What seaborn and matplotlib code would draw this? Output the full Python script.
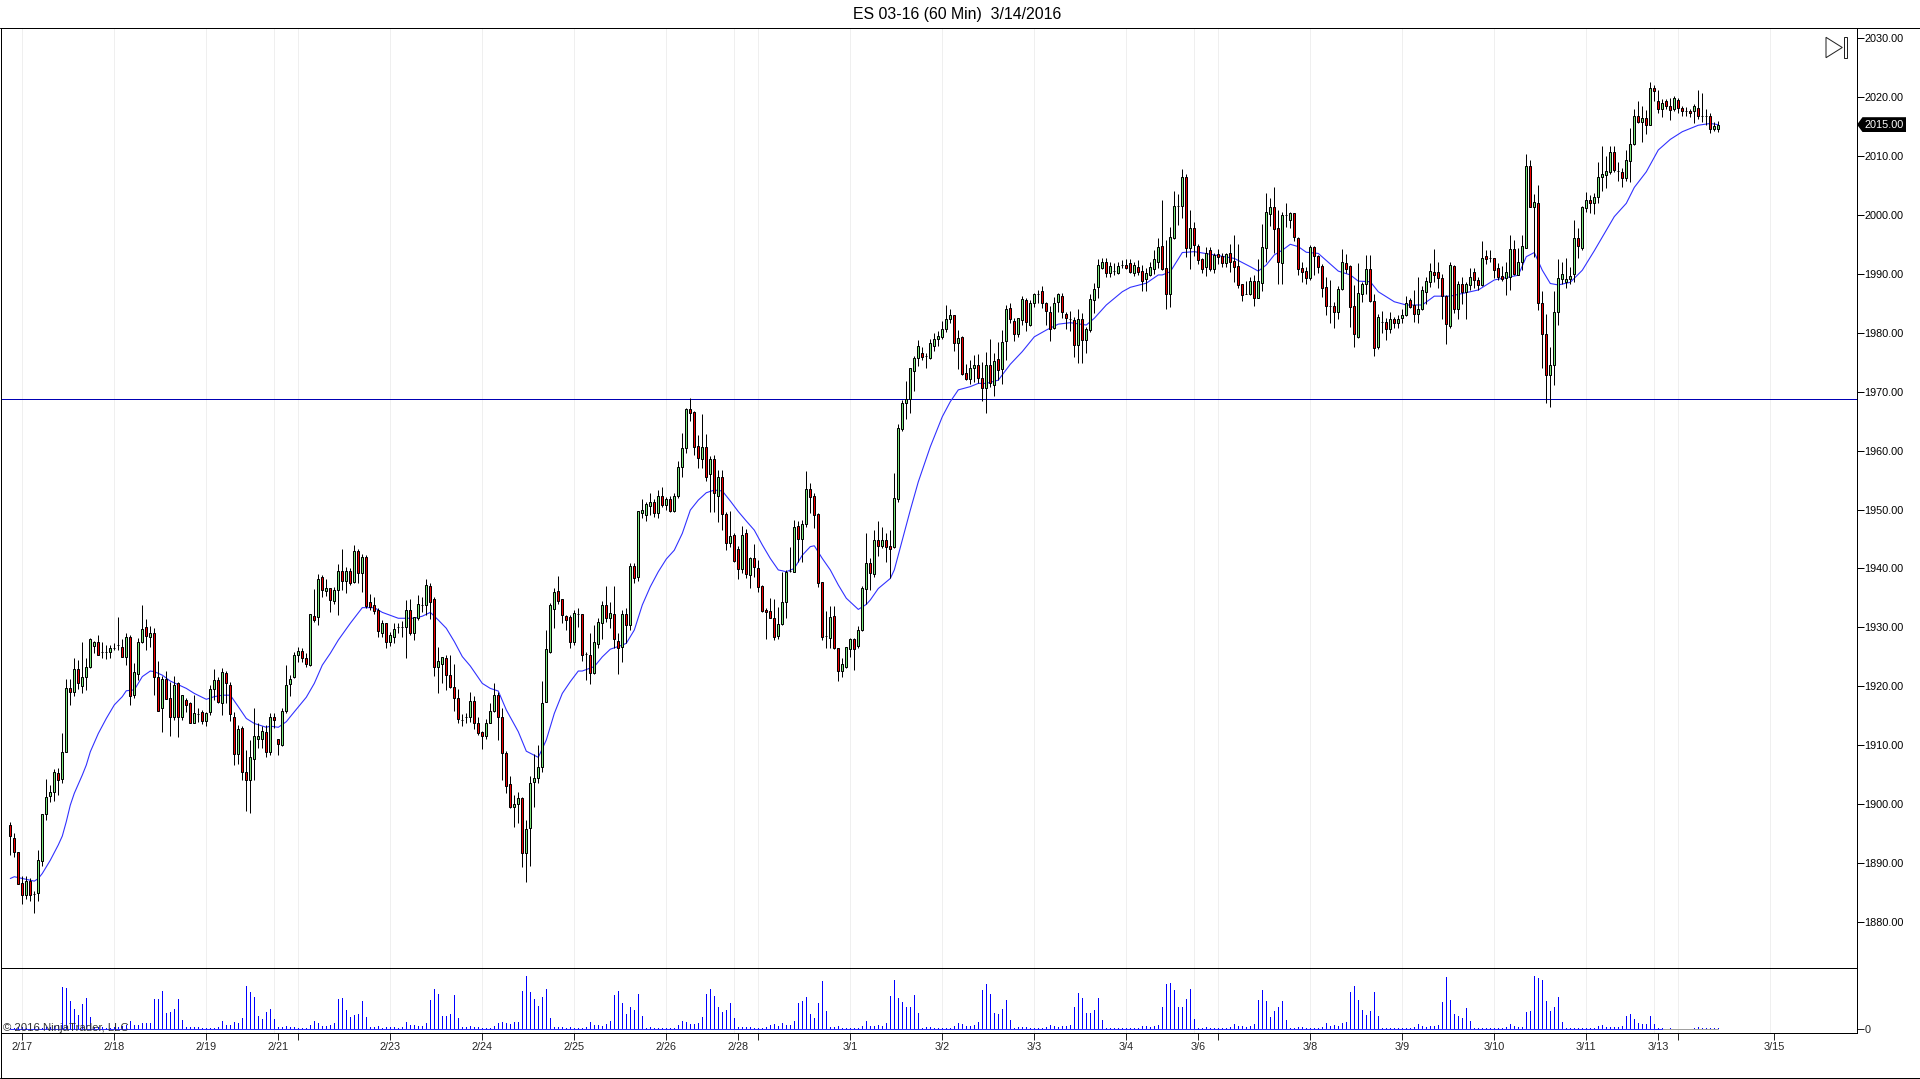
import numpy as np
import pandas as pd
import seaborn as sns
import matplotlib.pyplot as plt
from matplotlib.patches import Polygon, Rectangle
from matplotlib.lines import Line2D

title = "ES 03-16 (60 Min)  3/14/2016"
copyright_text = "© 2016 NinjaTrader, LLC"

opens = [
1896.5,1894.3,1891.9,1886.7,1884.6,1887.0,1884.75,1884.9,1890.4,1898.4,
1901.45,1902.0,1905.25,1904.2,1908.9,1919.65,1919.1,1922.9,1920.1,1921.65,
1923.2,1926.9,1927.5,1925.75,1925.75,1925.75,1926.5,1927.05,1926.6,1924.9,
1928.4,1918.5,1922.1,1927.6,1930.0,1928.4,1929.0,1921.65,1916.4,1921.2,
1918.1,1914.75,1920.5,1914.85,1917.7,1917.1,1913.8,1915.35,1915.7,1914.2,
1915.7,1919.5,1921.05,1917.1,1922.2,1920.2,1914.85,1908.45,1912.9,1905.4,
1904.1,1907.6,1911.1,1911.1,1912.2,1908.9,1914.8,1911.1,1910.05,1915.8,
1920.45,1921.5,1925.25,1925.95,1924.75,1923.7,1931.9,1931.7,1938.5,1936.1,
1936.6,1934.4,1936.4,1939.5,1937.9,1939.6,1937.65,1942.9,1939.2,1941.9,
1934.25,1933.75,1932.95,1929.1,1930.7,1927.6,1928.4,1930.0,1930.1,1930.1,
1932.9,1929.1,1931.6,1933.85,1933.85,1936.95,1934.75,1923.2,1923.85,1924.75,
1921.85,1919.95,1917.95,1914.35,1914.85,1914.85,1917.45,1913.75,1912.2,1911.6,
1913.85,1915.75,1918.5,1914.8,1908.65,1903.35,1899.6,1900.0,1901.0,1891.65,
1895.9,1903.7,1904.4,1906.35,1917.4,1925.9,1933.2,1936.1,1934.75,1931.9,
1931.7,1927.6,1932.3,1932.2,1925.5,1925.4,1922.2,1927.1,1930.7,1933.75,
1931.65,1932.2,1927.7,1926.6,1932.25,1930.4,1940.35,1938.6,1949.45,1949.1,
1950.65,1951.3,1949.45,1952.35,1950.8,1951.75,1949.8,1952.25,1957.15,1960.4,
1967.05,1966.5,1960.85,1958.6,1960.65,1955.95,1958.5,1952.35,1955.45,1949.2,
1944.25,1945.6,1943.25,1939.95,1945.95,1938.9,1941.8,1940.0,1937.05,1932.95,
1932.8,1931.65,1928.6,1930.5,1934.35,1939.6,1939.45,1947.2,1944.95,1947.5,
1953.4,1952.25,1949.2,1937.65,1928.55,1928.15,1931.9,1926.45,1922.65,1923.35,
1926.35,1927.95,1926.8,1929.5,1936.45,1940.85,1939.0,1944.75,1943.85,1944.75,
1943.8,1943.7,1951.75,1963.65,1968.0,1968.7,1973.55,1975.65,1976.5,1976.0,
1975.65,1977.8,1978.9,1979.3,1980.65,1982.4,1982.95,1978.3,1979.2,1973.1,
1972.15,1974.05,1974.6,1972.25,1970.65,1974.45,1971.2,1975.5,1973.9,1978.65,
1984.15,1982.0,1979.7,1982.2,1985.5,1981.35,1985.1,1986.6,1987.0,1984.98,
1983.55,1980.85,1985.15,1986.2,1983.1,1982.35,1982.15,1977.85,1982.25,1978.7,
1980.4,1985.5,1987.7,1991.0,1992.0,1990.2,1990.4,1990.2,1991.5,1991.5,
1991.75,1990.2,1991.2,1990.5,1989.1,1989.85,1990.8,1992.0,1994.7,1990.9,
1986.6,1996.0,2001.55,2001.55,2006.4,1994.4,1997.7,1994.7,1992.5,1991.1,
1994.0,1990.85,1993.4,1993.0,1991.75,1993.45,1992.15,1991.3,1988.2,1986.55,
1986.6,1988.7,1985.95,1988.35,1994.4,2000.2,2001.4,1997.7,1991.75,1999.9,
1999.2,2000.25,1996.0,1990.9,1990.45,1989.3,1994.6,1992.95,1991.25,1987.7,
1984.6,1984.45,1983.55,1987.35,1991.75,1991.3,1984.5,1979.3,1986.6,1988.3,
1990.75,1985.4,1977.6,1981.85,1981.75,1980.7,1982.25,1981.7,1982.55,1982.95,
1985.5,1984.65,1983.1,1983.95,1986.95,1988.65,1990.25,1990.25,1989.2,1986.2,
1981.15,1991.3,1984.05,1988.2,1986.95,1988.1,1990.25,1988.9,1988.1,1992.95,
1992.6,1992.6,1990.9,1989.7,1989.2,1989.5,1994.15,1989.85,1992.05,1994.4,
2008.2,2001.4,2002.05,1985.0,1979.7,1972.75,1974.6,1983.55,1989.15,1988.65,
1989.1,1989.9,1996.15,1994.4,2001.2,2002.45,2002.05,2003.1,2006.35,2006.8,
2007.3,2010.6,2007.35,2007.2,2006.25,2009.2,2012.05,2016.7,2015.75,2016.4,
2015.3,2021.5,2019.35,2017.9,2019.3,2018.4,2017.9,2019.45,2018.2,2017.65,
2017.65,2017.65,2018.2,2016.8,2016.8,2016.85,2014.6,2014.55]

closes = [
1894.65,1891.9,1886.4,1884.6,1886.9,1884.6,1884.75,1890.5,1898.4,1901.2,
1902.0,1905.4,1904.1,1908.9,1919.65,1919.1,1922.9,1920.5,1921.5,1923.2,
1928.0,1927.5,1925.4,1925.75,1925.75,1926.45,1926.5,1927.05,1924.9,1928.4,
1918.4,1922.4,1927.6,1929.7,1928.6,1929.0,1921.65,1915.9,1921.25,1917.9,
1914.75,1920.2,1914.75,1918.5,1916.85,1913.8,1915.4,1915.35,1914.2,1915.4,
1919.5,1921.05,1917.4,1922.4,1920.5,1915.25,1908.45,1912.7,1905.4,1904.1,
1907.95,1911.55,1911.55,1912.4,1908.9,1914.8,1914.3,1910.15,1915.9,1920.2,
1921.2,1925.25,1925.95,1924.85,1923.75,1932.2,1931.3,1938.15,1936.35,1936.6,
1934.7,1936.4,1939.6,1937.9,1939.5,1937.5,1942.9,1939.2,1941.9,1933.7,
1933.4,1932.85,1929.45,1930.7,1927.6,1928.65,1929.65,1930.0,1930.1,1932.9,
1929.1,1931.7,1933.9,1933.85,1937.15,1934.3,1923.35,1924.25,1924.9,1921.85,
1919.95,1917.95,1914.4,1914.35,1914.85,1917.55,1913.85,1912.15,1911.6,1913.75,
1915.75,1918.5,1914.85,1908.65,1903.15,1899.6,1900.0,1901.0,1891.65,1895.75,
1903.65,1904.4,1906.35,1917.1,1926.3,1933.8,1936.0,1934.4,1932.15,1931.3,
1927.6,1932.4,1932.3,1925.4,1925.5,1922.3,1927.45,1930.95,1933.75,1931.65,
1932.4,1927.95,1926.45,1932.25,1930.4,1940.35,1938.4,1949.7,1949.85,1950.9,
1951.3,1949.45,1952.35,1950.7,1951.75,1949.8,1952.25,1957.15,1960.4,1967.05,
1966.45,1960.65,1958.7,1960.65,1955.55,1958.55,1952.75,1955.45,1949.2,1944.25,
1945.45,1941.3,1939.95,1945.6,1939.1,1941.7,1940.2,1936.9,1932.85,1932.65,
1931.65,1928.45,1930.5,1934.25,1939.45,1939.6,1946.95,1945.05,1947.5,1953.4,
1952.1,1949.0,1937.6,1928.45,1928.55,1931.7,1926.45,1922.65,1923.75,1926.6,
1927.95,1926.35,1929.5,1936.65,1940.85,1939.15,1944.8,1943.85,1944.75,1943.7,
1943.35,1951.9,1963.75,1968.0,1968.7,1973.95,1975.65,1977.7,1975.95,1976.0,
1978.2,1978.9,1979.45,1980.7,1982.25,1982.95,1978.3,1979.15,1973.05,1972.15,
1973.95,1974.6,1972.35,1970.65,1974.45,1971.4,1975.15,1973.6,1978.35,1983.95,
1982.4,1979.7,1982.45,1985.65,1981.75,1984.98,1986.5,1986.6,1984.98,1983.6,
1980.65,1984.98,1986.5,1983.45,1982.45,1982.35,1977.85,1982.25,1978.7,1980.65,
1985.65,1987.35,1991.5,1992.0,1990.2,1991.4,1990.4,1991.3,1991.5,1991.0,
1990.35,1991.5,1990.35,1988.8,1990.2,1991.2,1992.5,1994.5,1990.8,1986.6,
1996.2,2001.5,2001.55,2006.4,1994.4,1997.7,1994.9,1992.4,1990.85,1993.6,
1990.75,1993.1,1992.9,1991.9,1993.4,1992.05,1991.2,1988.05,1986.45,1986.55,
1988.8,1985.95,1988.7,1994.5,2000.4,2001.25,1997.65,1991.95,1999.9,1999.9,
2000.3,1996.2,1990.85,1990.35,1989.2,1994.5,1992.95,1991.2,1987.65,1984.6,
1984.6,1983.5,1987.35,1991.95,1990.8,1984.4,1979.7,1986.7,1988.25,1990.75,
1985.4,1977.45,1982.6,1981.85,1980.7,1982.4,1981.7,1982.4,1982.95,1985.1,
1984.4,1983.1,1984.1,1987.25,1988.75,1990.4,1989.85,1989.2,1986.2,1981.4,
1991.45,1984.05,1988.2,1986.9,1988.2,1989.45,1988.9,1988.1,1992.6,1992.55,
1992.6,1990.7,1989.4,1989.15,1990.25,1994.15,1989.9,1992.05,1994.7,2008.2,
2001.4,2002.2,1985.0,1979.7,1972.75,1974.6,1983.45,1989.2,1989.9,1989.15,
1989.7,1996.15,1994.65,2001.25,2002.45,2002.05,2003.1,2006.35,2006.85,2007.35,
2010.6,2007.6,2007.35,2006.25,2009.3,2012.1,2016.7,2015.75,2016.4,2015.3,
2021.6,2021.05,2017.9,2018.9,2018.4,2017.85,2019.75,2018.05,2017.65,2017.65,
2017.3,2018.4,2016.7,2016.8,2016.8,2014.6,2015.05,2015.2]

highs = [
1896.9,1895.2,1891.9,1887.9,1887.8,1887.4,1885.3,1892.2,1898.4,1904.2,
1903.25,1906.0,1906.1,1912.0,1921.2,1921.2,1924.75,1924.5,1927.5,1924.75,
1928.25,1927.75,1928.7,1927.5,1927.0,1927.0,1927.4,1931.7,1928.0,1929.0,
1928.7,1923.9,1928.15,1933.8,1931.5,1930.25,1929.85,1924.3,1921.75,1922.6,
1920.7,1921.75,1920.8,1918.6,1917.95,1917.4,1918.5,1916.4,1916.0,1915.7,
1920.2,1922.9,1921.65,1923.05,1922.65,1920.8,1915.7,1913.4,1913.25,1909.2,
1910.9,1916.4,1913.7,1913.25,1913.4,1915.4,1915.5,1911.1,1916.3,1923.7,
1921.9,1925.9,1926.6,1926.5,1925.6,1932.3,1936.45,1939.05,1938.9,1938.15,
1936.6,1936.9,1940.75,1943.3,1940.2,1940.0,1944.0,1943.25,1942.45,1942.3,
1935.6,1935.2,1933.25,1931.25,1930.7,1929.3,1930.7,1930.7,1931.1,1934.65,
1934.75,1931.7,1935.5,1935.1,1938.15,1937.5,1935.1,1926.6,1925.0,1925.3,
1925.25,1923.8,1919.5,1915.3,1915.5,1919.0,1918.35,1914.75,1912.4,1914.45,
1917.1,1920.5,1919.1,1916.25,1909.1,1904.8,1901.55,1902.0,1901.3,1897.3,
1904.8,1908.45,1910.05,1920.95,1929.55,1934.1,1936.6,1938.7,1934.9,1932.1,
1932.1,1933.0,1933.25,1932.25,1925.75,1929.0,1930.4,1931.65,1934.45,1937.0,
1934.25,1937.0,1929.0,1932.95,1933.25,1940.9,1940.9,1949.7,1951.8,1951.3,
1952.75,1951.8,1953.3,1953.9,1952.2,1952.35,1952.75,1958.2,1963.05,1967.2,
1968.85,1966.75,1962.65,1966.2,1962.75,1959.15,1959.25,1956.7,1956.7,1949.65,
1949.75,1945.95,1943.85,1947.2,1946.65,1941.9,1944.15,1941.4,1937.2,1933.25,
1934.95,1934.8,1933.4,1939.45,1939.75,1943.7,1948.2,1948.1,1948.2,1956.55,
1954.45,1952.75,1949.35,1937.65,1932.75,1933.7,1933.7,1926.45,1924.75,1926.6,
1928.15,1928.15,1930.25,1937.1,1945.95,1941.7,1946.5,1948.05,1947.1,1945.95,
1946.6,1956.15,1964.5,1968.6,1971.8,1973.95,1976.05,1978.75,1977.5,1976.6,
1978.95,1979.9,1980.35,1981.95,1984.7,1983.95,1983.0,1980.45,1979.45,1974.7,
1975.35,1976.2,1976.4,1975.0,1976.7,1978.95,1976.5,1978.5,1980.45,1984.7,
1985.1,1982.55,1982.55,1986.2,1985.85,1985.55,1986.8,1987.25,1987.9,1985.15,
1984.5,1986.0,1986.7,1986.7,1983.55,1983.75,1982.7,1983.95,1983.3,1981.0,
1986.6,1988.4,1992.5,1992.75,1992.75,1992.0,1991.75,1992.0,1992.25,1992.5,
1992.5,1992.0,1992.25,1991.5,1991.0,1992.0,1994.0,1996.0,2002.5,1995.7,
1998.0,2004.0,2003.45,2007.7,2006.85,2000.8,1998.8,1995.0,1992.7,1994.6,
1994.6,1993.6,1994.15,1993.45,1993.6,1995.05,1996.55,1995.05,1988.25,1988.75,
1989.4,1989.8,1992.5,1998.45,2003.65,2002.8,2004.65,2000.8,2000.4,2002.05,
2000.55,2000.35,1996.2,1992.05,1991.2,1994.9,1994.7,1993.2,1991.65,1989.4,
1988.95,1985.25,1987.9,1994.15,1993.35,1991.5,1988.1,1991.85,1988.65,1993.2,
1993.2,1986.65,1983.1,1983.75,1982.55,1983.55,1982.7,1983.0,1984.1,1986.2,
1985.85,1987.25,1989.5,1987.9,1989.5,1991.85,1994.15,1992.05,1989.9,1986.4,
1992.05,1991.45,1988.75,1989.5,1988.65,1990.9,1990.9,1989.5,1995.5,1994.0,
1994.0,1992.7,1991.85,1991.3,1992.05,1996.55,1995.7,1994.3,1996.55,2010.4,
2009.3,2003.5,2005.05,1987.05,1983.15,1977.6,1987.05,1992.5,1992.05,1992.7,
1991.2,1999.2,1997.7,2001.5,2003.9,2003.35,2003.65,2008.9,2011.65,2009.95,
2011.65,2011.65,2009.0,2007.9,2011.0,2014.65,2017.95,2019.3,2018.45,2017.8,
2022.45,2022.0,2021.2,2019.6,2019.6,2019.75,2020.2,2019.75,2018.45,2018.35,
2017.9,2018.8,2021.2,2020.6,2017.9,2017.2,2015.8,2016.0]

lows = [
1891.4,1891.1,1886.4,1883.1,1883.95,1883.6,1881.6,1883.5,1889.55,1897.3,
1900.4,1900.55,1901.6,1903.65,1908.9,1916.85,1918.35,1919.5,1918.9,1919.4,
1923.05,1925.6,1925.3,1924.75,1924.65,1924.75,1926.2,1926.2,1924.9,1923.6,
1916.85,1917.95,1921.1,1927.3,1926.2,1926.7,1918.5,1915.9,1912.3,1917.9,
1911.55,1914.3,1911.45,1914.3,1915.7,1913.7,1913.7,1914.0,1913.6,1913.25,
1915.15,1917.7,1917.1,1915.15,1917.1,1914.2,1906.65,1906.8,1904.1,1898.85,
1898.55,1904.1,1909.5,1909.5,1908.05,1908.35,1912.9,1908.35,1909.9,1915.5,
1918.4,1921.35,1924.2,1924.2,1923.35,1923.45,1931.0,1930.4,1935.2,1935.3,
1932.65,1934.05,1932.1,1936.35,1935.9,1937.2,1937.5,1937.5,1936.05,1933.25,
1932.95,1932.3,1928.3,1928.4,1926.55,1926.85,1927.4,1929.0,1928.4,1924.75,
1928.7,1927.85,1931.25,1932.65,1932.1,1931.5,1921.75,1918.9,1920.6,1919.4,
1919.65,1915.85,1913.85,1913.25,1913.85,1914.0,1912.7,1911.75,1909.35,1911.05,
1913.75,1915.6,1910.9,1904.1,1901.85,1899.3,1896.2,1896.75,1889.4,1886.85,
1889.5,1899.6,1903.65,1905.4,1917.4,1925.7,1929.95,1934.05,1930.7,1929.55,
1926.55,1927.0,1930.0,1924.35,1921.05,1920.45,1922.05,1926.45,1927.95,1930.95,
1929.85,1926.45,1922.15,1924.2,1927.3,1929.55,1937.45,1937.9,1948.5,1948.05,
1949.05,1948.8,1948.6,1950.45,1949.9,1949.5,1949.5,1952.0,1955.55,1959.55,
1965.0,1959.25,1957.1,1957.1,1954.9,1949.5,1949.5,1947.95,1946.5,1943.15,
1943.7,1941.15,1938.15,1939.2,1938.4,1936.6,1938.6,1936.05,1932.65,1927.95,
1931.55,1927.85,1928.05,1930.4,1931.65,1939.45,1939.45,1941.15,1941.15,1947.1,
1949.35,1946.9,1936.9,1927.85,1926.45,1926.45,1926.3,1920.95,1921.65,1923.15,
1925.05,1922.75,1926.45,1929.4,1933.9,1936.35,1938.6,1942.1,1943.4,1941.15,
1938.3,1943.4,1951.35,1963.4,1965.35,1966.3,1970.1,1974.35,1975.35,1974.05,
1975.5,1976.95,1977.75,1978.9,1980.15,1981.7,1976.95,1973.8,1972.8,1971.95,
1971.3,1971.7,1971.5,1968.4,1966.45,1970.85,1969.25,1971.95,1971.3,1975.35,
1981.6,1978.65,1979.3,1981.3,1980.3,1981.15,1984.3,1984.98,1984.15,1981.3,
1978.65,1980.7,1983.55,1982.45,1980.55,1980.3,1975.95,1974.9,1974.9,1976.5,
1980.15,1983.4,1985.9,1990.75,1989.4,1989.4,1989.8,1989.9,1990.9,1990.75,
1990.2,1989.6,1989.8,1987.15,1987.15,1989.6,1990.0,1991.0,1990.65,1984.0,
1984.4,1995.85,1998.3,1999.4,1992.9,1990.8,1993.05,1991.65,1990.05,1989.65,
1990.45,1990.05,1991.65,1991.1,1991.1,1990.35,1988.65,1987.5,1985.45,1986.5,
1986.4,1984.55,1985.95,1987.1,1992.05,1998.1,1993.6,1988.25,1988.25,1998.0,
1997.7,1995.55,1989.8,1988.65,1988.25,1988.95,1989.8,1990.05,1986.0,1983.0,
1981.6,1980.85,1982.3,1987.25,1990.05,1981.0,1977.6,1979.15,1985.25,1986.65,
1985.25,1976.05,1977.15,1979.9,1978.75,1979.9,1980.75,1980.85,1981.7,1982.85,
1984.15,1981.85,1981.6,1983.85,1984.95,1987.7,1988.65,1987.5,1982.4,1978.05,
1980.75,1983.3,1982.3,1984.85,1982.3,1987.25,1987.5,1987.25,1987.9,1991.65,
1992.05,1989.2,1988.95,1988.75,1986.4,1987.25,1989.8,1989.75,1990.6,1994.4,
2001.4,1992.9,1983.85,1973.95,1968.0,1967.4,1971.1,1981.3,1988.25,1987.65,
1988.25,1988.65,1992.6,1994.0,2000.5,2000.35,2000.15,2002.05,2004.1,2004.5,
2007.0,2007.3,2005.8,2004.65,2005.7,2005.6,2011.85,2015.5,2012.4,2013.65,
2015.2,2019.35,2017.2,2016.65,2017.9,2016.1,2017.65,2017.2,2016.75,2016.75,
2016.65,2015.5,2016.2,2015.8,2015.2,2013.8,2014.3,2014.1]

volume = [
5,5,6,6,5,5,6,6,5,8,8,10,14,
128,125,84,60,42,75,93,38,8,8,6,5,5,6,8,10,12,24,12,12,18,18,18,
90,92,114,48,51,60,90,27,6,8,8,6,5,5,5,5,8,24,12,12,21,18,33,
129,111,96,39,30,51,60,30,8,8,11,6,6,5,5,5,14,24,18,9,9,14,18,
90,93,57,36,42,45,84,36,6,6,9,5,8,6,6,5,8,21,14,12,11,11,20,
87,120,105,39,39,45,102,33,6,6,9,8,8,4,4,4,10,18,21,18,15,21,21,
115,160,112,91,70,97,121,34,7,7,7,5,7,5,5,5,8,21,13,13,10,15,25,
103,115,78,45,67,58,106,40,5,7,5,5,5,5,5,5,12,25,22,16,16,20,37,
106,120,100,67,52,58,78,34,7,7,7,7,5,5,5,8,12,16,10,19,13,13,25,
79,85,97,46,34,79,145,55,7,7,10,5,5,5,5,5,10,25,10,10,13,10,19,
100,148,94,82,67,67,103,49,4,7,7,5,5,5,5,5,10,19,16,10,10,13,22,
118,136,106,49,46,61,88,28,4,7,7,7,5,5,5,5,7,13,10,7,10,10,13,
67,109,94,49,49,58,94,28,5,5,5,4,4,4,4,5,4,11,11,8,11,13,
67,136,139,118,67,67,91,121,31,4,4,7,5,5,5,5,5,7,16,10,10,8,10,16,
88,118,85,37,55,67,85,28,4,4,7,7,5,5,5,5,8,19,10,13,10,19,22,
112,130,88,58,43,55,112,40,4,4,4,4,4,4,4,4,8,16,10,7,10,10,13,
82,157,88,46,40,34,64,25,4,4,4,4,4,4,4,4,7,16,10,7,7,52,55,
160,154,148,85,55,67,97,22,4,4,4,4,4,4,4,4,10,13,7,7,7,7,10,
40,46,31,19,16,16,40,16,4,4,0,4,0,0,0,0,0,4,7,4,4,4,4,4]

sma_bar = [0,1,3,6,7,8,10,12,13,14,15,16,18,19,20,22,24,26,28,29,31,33,35,36,38,40,44,46,49,51,53,55,57,59,61,64,65,67,69,
70,74,76,78,80,82,85,88,91,93,97,101,103,105,107,109,111,113,115,118,120,122,124,127,129,132,134,136,138,140,142,
143,146,148,150,153,154,156,158,160,162,164,166,168,170,172,174,176,178,180,182,184,186,188,190,192,194,196,198,200,201,203,205,207,209,212,214,
215,217,220,221,223,225,227,230,233,235,237,240,242,244,247,250,253,256,259,262,265,269,271,274,278,280,284,287,
288,290,293,296,301,306,310,312,314,316,318,320,322,324,327,330,332,335,337,340,342,346,349,353,356,359,
360,367,371,377,379,381,383,385,387,390,393,396,399,401,404,406,409,412,415,418,422,425,427]
sma_val = [1887.4,1887.7,1887.4,1886.95,1887.4,1888.25,1890.5,1893.1,1894.6,1897.05,1899.85,1901.85,1904.95,1906.65,1908.9,1912.0,1914.55,1916.85,1918.25,1919.25,1919.4,1921.65,1922.6,1922.5,1921.9,1920.9,1919.65,1918.8,1917.8,1918.25,1918.5,1918.5,1916.55,1914.55,1913.7,1913.05,1913.25,1913.05,1914.0,
1914.85,1918.15,1920.5,1923.6,1925.6,1927.85,1930.7,1933.35,1933.35,1932.55,1931.55,1931.55,1931.9,1932.55,1931.25,1929.85,1927.6,1925.05,1923.45,1920.5,1919.65,1919.2,1916.0,1912.3,1909.0,1907.95,1910.9,1915.4,1918.8,1920.8,1922.6,
1922.6,1923.35,1925.0,1926.3,1927.0,1927.3,1929.55,1933.8,1936.9,1939.45,1941.6,1943.1,1945.95,1949.9,1951.6,1952.85,1953.3,1953.15,1951.45,1949.65,1948.05,1946.5,1944.0,1941.7,1939.75,1939.45,1940.0,1942.25,1943.7,1943.85,1941.7,1939.75,1937.2,1934.95,1933.05,1933.9,
1934.65,1936.6,1938.3,1939.75,1944.8,1949.9,1954.7,1960.65,1965.75,1968.3,1970.3,1970.85,1971.4,1971.4,1971.95,1974.65,1976.8,1979.3,1980.45,1981.45,1981.7,1981.3,1982.45,1984.7,1986.95,1987.7,1988.4,1989.8,
1989.8,1990.35,1993.6,1993.75,1993.2,1992.6,1991.2,1990.45,1991.5,1993.2,1994.0,1995.0,1994.6,1993.65,1993.45,1991.65,1990.45,1989.8,1988.75,1988.65,1986.95,1985.25,1984.7,1984.7,1986.2,1986.2,
1986.2,1987.25,1988.95,1989.75,1992.9,1993.6,1990.6,1988.35,1988.1,1988.55,1990.6,1993.9,1997.4,1999.7,2001.95,2004.65,2007.3,2011.0,2012.8,2014.1,2015.2,2015.5,2015.3]

price_ticks = [1880,1890,1900,1910,1920,1930,1940,1950,1960,1970,1980,1990,2000,2010,2020,2030]
date_ticks = [3,26,49,67,72,95,118,141,164,182,187,210,233,256,279,297,302,325,348,371,394,412,417,441]
date_labels = ["2/17","2/18","2/19","2/21","","2/23","2/24","2/25","2/26","2/28","","3/1","3/2","3/3","3/4","3/6","","3/8","3/9","3/10","3/11","3/13","","3/15"]
grid_bars = [3,26,49,66,72,95,118,141,164,181,187,210,233,256,279,296,302,325,348,371,394,411,417,440]
level = 1968.75
last_price = 2015.0

df = pd.DataFrame({"open":opens,"high":highs,"low":lows,"close":closes,"volume":volume})
df["bar"] = np.arange(len(df))

sns.set_style("white")
plt.rcParams["font.family"] = ["Liberation Sans","DejaVu Sans"]

W,H = 1920,1079
px = 72/100  # one pixel in points

def fx(x): return x/W
def fy(y): return 1-y/H

fig = plt.figure(figsize=(W/100,H/100),dpi=100,facecolor="white")
ax = fig.add_axes([fx(1),fy(968.3),fx(1857)-fx(1),fy(28)-fy(968.3)])
vax = fig.add_axes([fx(1),fy(1033.3),fx(1857)-fx(1),fy(968.3)-fy(1033.3)],sharex=ax)

# price panel
for a in (ax,vax):
    a.vlines(grid_bars,0,1,transform=a.get_xaxis_transform(),color="#efefef",lw=1*px,zorder=0)
level_line = ax.axhline(level,color="#0000b4",lw=1*px,zorder=1.5)
level_line.set_snap(True)
sns.lineplot(x=sma_bar,y=sma_val,ax=ax,color="#3030ff",lw=1.1*px,zorder=2,errorbar=None,estimator=None)

ax.vlines(df["bar"],df["low"],df["high"],color="black",lw=1*px,zorder=3)
up = df["close"]>=df["open"]
body_col = np.where(up,"#78e678","#f00000")
ax.bar(df["bar"],(df["close"]-df["open"]).abs(),bottom=df[["open","close"]].min(axis=1),
       width=0.5,color=body_col,edgecolor="black",linewidth=1*px,zorder=4)

ax.set_xlim((1-10.3)/4,(1857-10.3)/4)
ax.set_ylim(2030-(968.3-38)/5.894,2030+10/5.894)
ax.yaxis.tick_right()
ax.set_yticks(price_ticks)
ax.set_yticklabels(["%.2f"%p for p in price_ticks])
ax.tick_params(axis="y",direction="out",length=5,width=1*px,pad=0.5,labelsize=7.8,right=True,left=False,colors="black")
ax.tick_params(axis="x",bottom=False,labelbottom=False)
ax.set_xlabel("");ax.set_ylabel("")
for s in ax.spines.values():
    s.set_linewidth(1*px);s.set_color("black")

# volume panel
sns.barplot(data=df,x="bar",y="volume",ax=vax,native_scale=True,color="#0000ff",saturation=1,width=0.3,linewidth=0,errorbar=None,zorder=2)
vax.plot(df["bar"][:414],np.zeros(414),color="#2a2aff",lw=1*px,zorder=2)
vax.plot(df["bar"][413:],np.zeros(len(df)-413),color="#a0a0a0",lw=1*px,zorder=1.5)
vax.set_xlim((1-10.3)/4,(1857-10.3)/4)
vax.set_ylim(-(1033.3-1029.2)*3,(1029.2-968.3)*3)
vax.yaxis.tick_right()
vax.set_yticks([0])
vax.set_yticklabels(["0"])
vax.tick_params(axis="y",direction="out",length=5,width=1*px,pad=0.5,labelsize=7.8,right=True,left=False)
vax.set_xticks(date_ticks)
vax.set_xticklabels(date_labels)
vax.tick_params(axis="x",direction="out",length=5,width=1*px,pad=1.5,labelsize=7.8,bottom=True)
vax.set_xlabel("");vax.set_ylabel("")
for s in vax.spines.values():
    s.set_linewidth(1*px);s.set_color("black")

# outer frame, title and chart furniture
fig.add_artist(Line2D([0,1],[fy(28),fy(28)],color="black",lw=1*px))
fig.add_artist(Line2D([0,1],[fy(1078),fy(1078)],color="black",lw=1*px))
fig.add_artist(Line2D([fx(1),fx(1)],[fy(28),fy(1078)],color="black",lw=1*px))
fig.text(fx(957),fy(15),title,ha="center",va="center",fontsize=11.4,color="black")
fig.text(fx(3),fy(1028),copyright_text,ha="left",va="center",fontsize=8.2,color="#333333",zorder=10)

fig.add_artist(Polygon([(fx(1826),fy(37.3)),(fx(1826),fy(57.7)),(fx(1842.3),fy(47.5))],closed=True,fc="none",ec="#222222",lw=1*px))
fig.add_artist(Rectangle((fx(1843.5),fy(57.7)),fx(3.2),fy(37.3)-fy(57.7),fc="none",ec="#222222",lw=1*px))

fig.add_artist(Polygon([(fx(1857),fy(124.6)),(fx(1862.5),fy(117.2)),(fx(1906),fy(117.2)),(fx(1906),fy(132)),(fx(1862.5),fy(132))],closed=True,fc="black",ec="black",lw=0,zorder=9))
fig.text(fx(1884.5),fy(125),"%.2f"%last_price,ha="center",va="center",fontsize=7.8,color="white",zorder=10)

fig.savefig("out.png",dpi=100)
